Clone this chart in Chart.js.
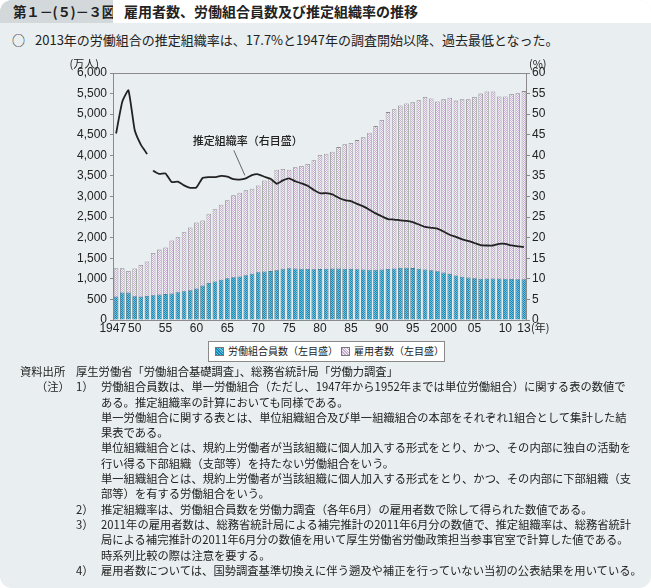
<!DOCTYPE html>
<html lang="ja">
<head>
<meta charset="utf-8">
<script src="https://cdn.jsdelivr.net/npm/chart.js@4.4.1/dist/chart.umd.min.js"></script>
<style>
  html, body { margin: 0; padding: 0; background: #fff; }
  body { width: 651px; height: 588px; position: relative; overflow: hidden;
         font-family: "Noto Sans CJK JP", "Noto Sans", sans-serif; color: #222; }
  .panel { position: absolute; left: 0; top: 0; width: 651px; height: 588px;
           background: #e9eef0; border-radius: 12px; overflow: hidden; }
  .tab { position: absolute; left: 0; top: 0; width: 113px; height: 23px; background: #d3d8db;
         font-size: 13.5px; font-weight: bold; line-height: 23px; padding-left: 13px; box-sizing: border-box;
         white-space: nowrap; letter-spacing: -0.3px; }
  .title { position: absolute; left: 113px; top: 0; right: 0; height: 23px; background: #fff;
           font-size: 14px; font-weight: bold; line-height: 23px; padding-left: 11px; white-space: nowrap; }
  .lead { position: absolute; left: 12px; top: 31px; font-size: 13px; line-height: 18px; white-space: nowrap; }
  .lead span { display: inline-block; width: 23px; }
  #wrap { position: absolute; left: 0; top: 52px; width: 651px; height: 290px; }
  .legend { position: absolute; left: 208px; top: 341px; width: 237px; height: 21px; background: #fff;
            border: 1px solid #8a8a8a; box-sizing: border-box; font-size: 10px; white-space: nowrap; }
  .legend i { position: absolute; top: 5px; width: 7px; height: 7px; border: 1px solid #777; }
  .legend b { position: absolute; top: 2px; font-weight: normal; line-height: 14px; }
  .notes { position: absolute; left: 0; top: 364px; width: 651px; font-size: 11.3px; line-height: 15.3px; }
  .notes div { position: relative; white-space: nowrap; height: 15.3px; }
  .notes span { position: absolute; white-space: nowrap; }
</style>
</head>
<body>
<div class="panel">
  <div class="tab">第１－(５)－３図</div>
  <div class="title">雇用者数、労働組合員数及び推定組織率の推移</div>
  <div class="lead"><span>○</span>2013年の労働組合の推定組織率は、17.7%と1947年の調査開始以降、過去最低となった。</div>
  <div id="wrap"><canvas id="chart" width="651" height="290"></canvas></div>
  <div class="legend" id="legend"></div>
  <div class="notes">
    <div><span style="left:20px">資料出所</span><span style="left:76px">厚生労働省「労働組合基礎調査」、総務省統計局「労働力調査」</span></div>
    <div><span style="left:36px">（注）</span><span style="left:76px">1）</span><span style="left:101px">労働組合員数は、単一労働組合（ただし、1947年から1952年までは単位労働組合）に関する表の数値で</span></div>
    <div><span style="left:101px">ある。推定組織率の計算においても同様である。</span></div>
    <div><span style="left:101px">単一労働組合に関する表とは、単位組織組合及び単一組織組合の本部をそれぞれ1組合として集計した結</span></div>
    <div><span style="left:101px">果表である。</span></div>
    <div><span style="left:101px">単位組織組合とは、規約上労働者が当該組織に個人加入する形式をとり、かつ、その内部に独自の活動を</span></div>
    <div><span style="left:101px">行い得る下部組織（支部等）を持たない労働組合をいう。</span></div>
    <div><span style="left:101px">単一組織組合とは、規約上労働者が当該組織に個人加入する形式をとり、かつ、その内部に下部組織（支</span></div>
    <div><span style="left:101px">部等）を有する労働組合をいう。</span></div>
    <div><span style="left:76px">2）</span><span style="left:101px">推定組織率は、労働組合員数を労働力調査（各年6月）の雇用者数で除して得られた数値である。</span></div>
    <div><span style="left:76px">3）</span><span style="left:101px">2011年の雇用者数は、総務省統計局による補完推計の2011年6月分の数値で、推定組織率は、総務省統計</span></div>
    <div><span style="left:101px">局による補完推計の2011年6月分の数値を用いて厚生労働省労働政策担当参事官室で計算した値である。</span></div>
    <div><span style="left:101px">時系列比較の際は注意を要する。</span></div>
    <div><span style="left:76px">4）</span><span style="left:101px">雇用者数については、国勢調査基準切換えに伴う遡及や補正を行っていない当初の公表結果を用いている。</span></div>
  </div>
</div>
<script>
// 年（1947〜2013）
const years = [
  1947, 1948, 1949, 1950, 1951, 1952, 1953, 1954, 1955, 1956,
  1957, 1958, 1959, 1960, 1961, 1962, 1963, 1964, 1965, 1966,
  1967, 1968, 1969, 1970, 1971, 1972, 1973, 1974, 1975, 1976,
  1977, 1978, 1979, 1980, 1981, 1982, 1983, 1984, 1985, 1986,
  1987, 1988, 1989, 1990, 1991, 1992, 1993, 1994, 1995, 1996,
  1997, 1998, 1999, 2000, 2001, 2002, 2003, 2004, 2005, 2006,
  2007, 2008, 2009, 2010, 2011, 2012, 2013
];
// 労働組合員数（万人）
const members = [
  569, 668, 666, 577, 569, 584, 603, 620, 629, 646,
  676, 698, 723, 766, 836, 897, 936, 980, 1015, 1040,
  1057, 1087, 1125, 1160, 1180, 1188, 1210, 1246, 1259, 1251,
  1244, 1238, 1231, 1237, 1247, 1253, 1252, 1246, 1242, 1234,
  1227, 1223, 1223, 1227, 1240, 1254, 1266, 1270, 1261, 1245,
  1229, 1209, 1183, 1154, 1121, 1080, 1053, 1031, 1014, 1004,
  1008, 1007, 1008, 1005, 996, 989, 987
];
// 雇用者数（万人）
const employees = [
  1256, 1259, 1193, 1251, 1336, 1421, 1630, 1710, 1760, 1930,
  2010, 2130, 2250, 2370, 2420, 2580, 2690, 2800, 2910, 3030,
  3090, 3150, 3190, 3270, 3390, 3440, 3650, 3670, 3650, 3710,
  3740, 3790, 3880, 4010, 4040, 4090, 4200, 4270, 4300, 4370,
  4440, 4550, 4710, 4860, 5050, 5120, 5210, 5260, 5290, 5340,
  5420, 5380, 5310, 5360, 5400, 5330, 5360, 5360, 5420, 5500,
  5550, 5550, 5430, 5430, 5490, 5510, 5560
];
// 推定組織率（%）
const rates = [
  45.3, 53.0, 55.8, 46.2, 42.6, 40.3, 36.3, 35.5, 35.6, 33.5,
  33.6, 32.7, 32.1, 32.2, 34.5, 34.7, 34.7, 35.0, 34.8, 34.2,
  34.1, 34.4, 35.2, 35.4, 34.8, 34.3, 33.1, 33.9, 34.4, 33.7,
  33.2, 32.6, 31.6, 30.8, 30.8, 30.5, 29.7, 29.1, 28.9, 28.2,
  27.6, 26.8, 25.9, 25.2, 24.5, 24.4, 24.2, 24.1, 23.8, 23.2,
  22.6, 22.4, 22.2, 21.5, 20.7, 20.2, 19.6, 19.2, 18.7, 18.2,
  18.1, 18.1, 18.5, 18.5, 18.1, 17.9, 17.7
];
// x軸に表示する目盛ラベル
const xTickLabels = { 1947: '1947', 1950: '50', 1955: '55', 1960: '60', 1965: '65', 1970: '70',
  1975: '75', 1980: '80', 1985: '85', 1990: '90', 1995: '95', 2000: '2000', 2005: '05', 2010: '10', 2013: '13' };
const seriesLabels = ['労働組合員数（左目盛）', '雇用者数（左目盛）', '推定組織率（右目盛）'];
const gapAfterYear = 1952; // 1952→1953 は集計方法が異なるため線を切る
const calloutYear = 1968;

const BLUE = ['#0f8ab8', '#72c3df'];
const PURPLE = ['#c9aed4', '#f6f0f7'];

function makePattern(a, b) {
  const c = document.createElement('canvas');
  c.width = 2; c.height = 2;
  const g = c.getContext('2d');
  g.fillStyle = b; g.fillRect(0, 0, 2, 2);
  g.fillStyle = a; g.fillRect(0, 0, 1, 1); g.fillRect(1, 1, 1, 1);
  return g.createPattern(c, 'repeat');
}
const bluePat = makePattern(BLUE[0], BLUE[1]);
const purplePat = makePattern(PURPLE[0], PURPLE[1]);

// legend (HTML)
const sw = c => `background:repeating-linear-gradient(45deg,${c[0]} 0 1px,${c[1]} 1px 2px)`;
document.getElementById('legend').innerHTML =
  `<i style="left:6px;${sw(BLUE)}"></i><b style="left:19px">${seriesLabels[0]}</b>` +
  `<i style="left:132px;${sw(PURPLE)}"></i><b style="left:145px">${seriesLabels[1]}</b>`;

const extras = {
  id: 'extras',
  afterDraw(chart) {
    const { ctx, chartArea: a, scales } = chart;
    ctx.save();
    // frame
    ctx.strokeStyle = '#8a8a8a';
    ctx.lineWidth = 1;
    ctx.strokeRect(a.left + 0.5, a.top + 0.5, a.right - a.left - 1, a.bottom - a.top);
    // x tick labels
    ctx.fillStyle = '#222';
    ctx.font = '12px "Liberation Sans", Arial, sans-serif';
    ctx.textBaseline = 'top';
    years.forEach((yr, i) => {
      const t = xTickLabels[yr];
      if (!t) return;
      const x = scales.x.getPixelForValue(i);
      if (i === 0) { ctx.textAlign = 'right'; ctx.fillText(t, x + 10, a.bottom + 3); }
      else { ctx.textAlign = 'center'; ctx.fillText(t, x, a.bottom + 3); }
    });
    // unit labels
    ctx.font = '11px "Noto Sans CJK JP", sans-serif';
    ctx.textBaseline = 'bottom';
    ctx.textAlign = 'right';
    ctx.fillText('(万人)', a.left - 14, a.top - 4);
    ctx.textAlign = 'left';
    ctx.fillText('(%)', a.right + 2, a.top - 4);
    ctx.textBaseline = 'top';
    ctx.fillText('(年)', a.right + 4, a.bottom + 2);
    // callout for the rate line
    const i = years.indexOf(calloutYear);
    const px = scales.x.getPixelForValue(i);
    const py = scales.y2.getPixelForValue(rates[i]);
    ctx.textAlign = 'center';
    ctx.textBaseline = 'middle';
    ctx.font = '500 11px "Noto Sans CJK JP", sans-serif';
    ctx.fillText(seriesLabels[2], px + 2, py - 38);
    ctx.beginPath();
    ctx.moveTo(px - 12, py - 28);
    ctx.lineTo(px - 1, py - 3);
    ctx.strokeStyle = '#444';
    ctx.lineWidth = 0.8;
    ctx.stroke();
    ctx.restore();
  }
};

const gapIndex = years.indexOf(gapAfterYear);

new Chart(document.getElementById('chart'), {
  data: {
    labels: years,
    datasets: [
      {
        type: 'line', label: seriesLabels[2], data: rates, yAxisID: 'y2', order: 0,
        borderColor: '#222', borderWidth: 1.8, pointRadius: 0, tension: 0.15,
        segment: { borderColor: c => c.p0DataIndex === gapIndex ? 'rgba(0,0,0,0)' : '#222' }
      },
      {
        type: 'bar', label: seriesLabels[0], data: members, yAxisID: 'y', order: 1,
        backgroundColor: bluePat, borderColor: '#3f8099', borderWidth: 0.8,
        grouped: false, categoryPercentage: 1, barPercentage: 0.74
      },
      {
        type: 'bar', label: seriesLabels[1], data: employees, yAxisID: 'y', order: 2,
        backgroundColor: purplePat, borderColor: '#8a8a8a', borderWidth: 0.8,
        grouped: false, categoryPercentage: 1, barPercentage: 0.74
      }
    ]
  },
  options: {
    responsive: false,
    animation: false,
    layout: { padding: { top: 21, right: 94, bottom: 2, left: 0 } },
    scales: {
      x: {
        grid: { display: false }, border: { display: false },
        ticks: { display: false },
        afterFit: s => { s.height = 20; }
      },
      y: {
        position: 'left', min: 0, max: 6000,
        grid: { drawOnChartArea: false, tickLength: 3, color: '#8a8a8a' },
        border: { display: false },
        ticks: {
          stepSize: 500, padding: 3, color: '#222',
          font: { family: 'Liberation Sans, Arial, sans-serif', size: 12 },
          callback: v => v.toLocaleString('en-US')
        },
        afterFit: s => { s.width = 113; }
      },
      y2: {
        position: 'right', min: 0, max: 60,
        grid: { drawOnChartArea: false, tickLength: 3, color: '#8a8a8a' },
        border: { display: false },
        ticks: {
          stepSize: 5, padding: 2, color: '#222',
          font: { family: 'Liberation Sans, Arial, sans-serif', size: 12 }
        },
        afterFit: s => { s.width = 30; }
      }
    },
    plugins: { legend: { display: false }, tooltip: { enabled: false } }
  },
  plugins: [extras]
});
</script>
</body>
</html>
